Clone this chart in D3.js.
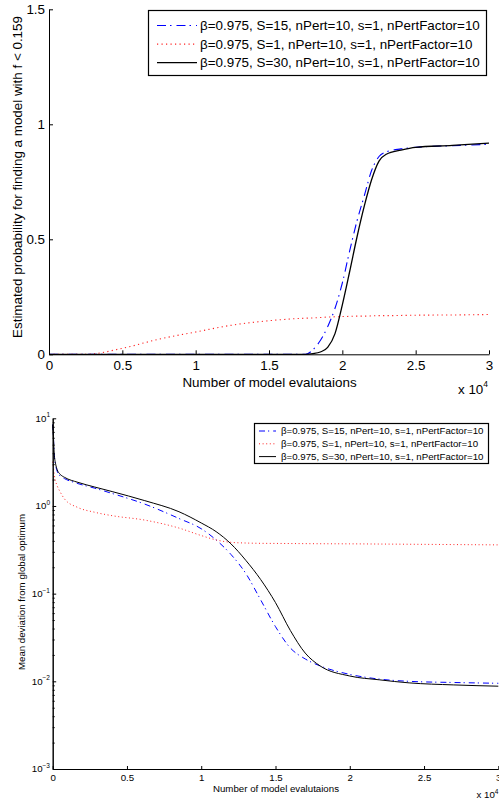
<!DOCTYPE html>
<html>
<head>
<meta charset="utf-8">
<script src="https://cdn.jsdelivr.net/npm/d3@7"></script>
<style>
  body { margin: 0; background: #fff; }
  svg { display: block; }
  text { font-family: "Liberation Sans", Arial, Helvetica, sans-serif; fill: #000; }
</style>
</head>
<body>
<svg id="fig" width="499" height="804"></svg>
<script>
// ---- Data ---------------------------------------------------------------
const seriesLabels = [
  "β=0.975, S=15, nPert=10, s=1, nPertFactor=10",
  "β=0.975, S=1, nPert=10, s=1, nPertFactor=10",
  "β=0.975, S=30, nPert=10, s=1, nPertFactor=10"
];

// Upper panel: probability of reaching f < 0.159 vs. number of evaluations
const evalsTop = [0, 2500, 5000, 7500, 10000, 12500, 15000, 17500, 18000, 18500,
  19000, 19500, 20000, 20500, 21000, 21500, 22000, 22500, 23000, 24000, 25000, 27500, 30000];
const probS15 = [0, 0, 0, 0, 0, 0, 0, 0, 0.02, 0.06,
  0.12, 0.2, 0.31, 0.45, 0.58, 0.69, 0.8, 0.86, 0.88, 0.893, 0.9, 0.907, 0.913];
const probS1 = [0, 0, 0.026, 0.066, 0.097, 0.127, 0.146, 0.157, 0.158, 0.16,
  0.162, 0.163, 0.164, 0.165, 0.166, 0.166, 0.167, 0.168, 0.168, 0.169, 0.17, 0.171, 0.173];
const probS30 = [0, 0, 0, 0, 0, 0, 0, 0, 0.003, 0.01,
  0.03, 0.09, 0.215, 0.36, 0.51, 0.645, 0.76, 0.84, 0.87, 0.888, 0.9, 0.908, 0.918];

// Lower panel: mean deviation from the global optimum (log scale)
const evalsBottom = [0, 50, 100, 200, 300, 500, 800, 1700, 2800, 4000, 6200, 8500,
  10000, 11000, 12000, 13000, 14000, 15000, 16000, 17000, 18000, 20000, 22000, 24000, 27000, 30000];
const devS15 = [8.5, 6, 4, 2.9, 2.5, 2.2, 2.05, 1.8, 1.6, 1.39, 1.05, 0.72,
  0.55, 0.41, 0.28, 0.17, 0.085, 0.042, 0.024, 0.018, 0.015, 0.012, 0.0106, 0.01, 0.0097, 0.0095];
const devS1 = [3.2, 2.7, 2.3, 1.9, 1.7, 1.45, 1.2, 0.96, 0.85, 0.775, 0.69, 0.56,
  0.46, 0.41, 0.385, 0.378, 0.375, 0.374, 0.373, 0.372, 0.371, 0.37, 0.368, 0.366, 0.363, 0.36];
const devS30 = [8.5, 6, 4, 3, 2.6, 2.3, 2.12, 1.86, 1.65, 1.46, 1.15, 0.86,
  0.64, 0.51, 0.37, 0.24, 0.145, 0.079, 0.038, 0.021, 0.015, 0.0115, 0.0104, 0.0096, 0.0091, 0.0088];

// Tick values and labels
const evalTicks = [0, 5000, 10000, 15000, 20000, 25000, 30000];
const evalTickLabels = ["0", "0.5", "1", "1.5", "2", "2.5", "3"];
const probTicks = [0, 0.5, 1, 1.5];
const probTickLabels = ["0", "0.5", "1", "1.5"];
const devTicks = [1e-3, 1e-2, 1e-1, 1, 10];
const devTickExponents = ["−3", "−2", "−1", "0", "1"];

// ---- Styles -------------------------------------------------------------
const colors = ["#0000ff", "#ff2020", "#000000"];
const dashTop = ["9,4,1.5,5", "1.2,3.3", null];
const dashBottom = ["6,3,1.2,4", "1,2.6", null];
const FS_TOP = 13.4;
const FS_BOT = 9.7;

const svg = d3.select("#fig");
const FONT = "Liberation Sans, Arial, Helvetica, sans-serif";

function styleAxis(g, size) {
  g.attr("font-family", FONT).attr("font-size", size);
  g.select(".domain").attr("stroke", "#000").attr("stroke-width", 1);
  g.selectAll(".tick line").attr("stroke", "#000").attr("stroke-width", 1);
  g.selectAll(".tick text").attr("fill", "#000");
}

const line = d3.line().curve(d3.curveMonotoneX);

// ---- Upper panel --------------------------------------------------------
const xTop = d3.scaleLinear().domain([0, 30000]).range([49, 489]);
const yTop = d3.scaleLinear().domain([0, 1.5]).range([354.3, 9.3]);

const topSeries = [probS15, probS1, probS30];
const gTop = svg.append("g");
topSeries.forEach((vals, i) => {
  gTop.append("path")
    .attr("d", line(evalsTop.map((e, k) => [xTop(e), yTop(vals[k])])))
    .attr("fill", "none")
    .attr("stroke", colors[i])
    .attr("stroke-width", i === 2 ? 1.3 : 1.1)
    .attr("stroke-dasharray", dashTop[i]);
});

const axTopX = gTop.append("g")
  .attr("transform", `translate(0,${yTop(0)})`)
  .call(d3.axisBottom(xTop).tickValues(evalTicks)
    .tickFormat((d, i) => evalTickLabels[i])
    .tickSizeInner(-4).tickSizeOuter(0).tickPadding(6));
styleAxis(axTopX, FS_TOP);

const axTopY = gTop.append("g")
  .attr("transform", `translate(${xTop(0)},0)`)
  .call(d3.axisLeft(yTop).tickValues(probTicks)
    .tickFormat((d, i) => probTickLabels[i])
    .tickSizeInner(-4).tickSizeOuter(0).tickPadding(4));
styleAxis(axTopY, FS_TOP);

gTop.append("text")
  .attr("x", 269.5).attr("y", 387)
  .attr("text-anchor", "middle").attr("font-size", FS_TOP)
  .text("Number of model evalutaions");

const expTop = gTop.append("text").attr("x", 458).attr("y", 393.5).attr("font-size", FS_TOP);
expTop.append("tspan").text("x 10");
expTop.append("tspan").attr("font-size", 8.5).attr("dy", -6.5).text("4");

gTop.append("text")
  .attr("transform", "translate(21.5,177) rotate(-90)")
  .attr("text-anchor", "middle").attr("font-size", FS_TOP)
  .text("Estimated probability for finding a model with f < 0.159");

// legend
const legTop = gTop.append("g");
legTop.append("rect").attr("x", 148.5).attr("y", 10.5).attr("width", 338).attr("height", 65)
  .attr("fill", "#fff").attr("stroke", "#000").attr("stroke-width", 1.2);
seriesLabels.forEach((lab, i) => {
  const cy = 25.5 + i * 18.6;
  legTop.append("line").attr("x1", 157).attr("x2", 197).attr("y1", cy).attr("y2", cy)
    .attr("stroke", colors[i]).attr("stroke-width", i === 2 ? 1.3 : 1.1)
    .attr("stroke-dasharray", dashTop[i]);
  legTop.append("text").attr("x", 200).attr("y", cy).attr("dy", "0.35em")
    .attr("font-size", FS_TOP).text(lab);
});

// ---- Lower panel --------------------------------------------------------
const xBot = d3.scaleLinear().domain([0, 30000]).range([52.7, 498.3]);
const yBot = d3.scaleLog().domain([1e-3, 10]).range([769, 418.3]);

const botSeries = [devS15, devS1, devS30];
const gBot = svg.append("g");
botSeries.forEach((vals, i) => {
  gBot.append("path")
    .attr("d", line(evalsBottom.map((e, k) => [xBot(e), yBot(vals[k])])))
    .attr("fill", "none")
    .attr("stroke", colors[i])
    .attr("stroke-width", 1)
    .attr("stroke-dasharray", dashBottom[i]);
});

const axBotX = gBot.append("g")
  .attr("transform", `translate(0,${yBot(1e-3)})`)
  .call(d3.axisBottom(xBot).tickValues(evalTicks)
    .tickFormat((d, i) => evalTickLabels[i])
    .tickSizeInner(-3).tickSizeOuter(0).tickPadding(5));
styleAxis(axBotX, FS_BOT);

// minor log ticks
const minorTicks = [];
for (let e = -3; e < 1; e++) for (let m = 2; m <= 9; m++) minorTicks.push(m * Math.pow(10, e));
const axBotMinor = gBot.append("g")
  .attr("transform", `translate(${xBot(0)},0)`)
  .call(d3.axisLeft(yBot).tickValues(minorTicks).tickFormat("")
    .tickSizeInner(-2).tickSizeOuter(0));
styleAxis(axBotMinor, FS_BOT);

const axBotY = gBot.append("g")
  .attr("transform", `translate(${xBot(0)},0)`)
  .call(d3.axisLeft(yBot).tickValues(devTicks).tickFormat("")
    .tickSizeInner(-3.5).tickSizeOuter(0));
styleAxis(axBotY, FS_BOT);

devTicks.forEach((v, i) => {
  const t = gBot.append("text").attr("x", 50).attr("y", yBot(v)).attr("dy", "0.35em")
    .attr("text-anchor", "end").attr("font-size", FS_BOT);
  t.append("tspan").text("10");
  t.append("tspan").attr("font-size", 6.5).attr("dy", -4.5).text(devTickExponents[i]);
});

gBot.append("text")
  .attr("x", 276).attr("y", 792)
  .attr("text-anchor", "middle").attr("font-size", FS_BOT)
  .text("Number of model evalutaions");

const expBot = gBot.append("text").attr("x", 476.5).attr("y", 798).attr("font-size", FS_BOT);
expBot.append("tspan").text("x 10");
expBot.append("tspan").attr("font-size", 6.5).attr("dy", -4.5).text("4");

gBot.append("text")
  .attr("transform", "translate(24.5,592) rotate(-90)")
  .attr("text-anchor", "middle").attr("font-size", FS_BOT)
  .text("Mean deviation from global optimum");

const legBot = gBot.append("g");
legBot.append("rect").attr("x", 254.5).attr("y", 423.5).attr("width", 234).attr("height", 40)
  .attr("fill", "#fff").attr("stroke", "#000").attr("stroke-width", 1.2);
seriesLabels.forEach((lab, i) => {
  const cy = 431 + i * 12.8;
  legBot.append("line").attr("x1", 259).attr("x2", 276).attr("y1", cy).attr("y2", cy)
    .attr("stroke", colors[i]).attr("stroke-width", 1)
    .attr("stroke-dasharray", dashBottom[i]);
  legBot.append("text").attr("x", 281).attr("y", cy).attr("dy", "0.35em")
    .attr("font-size", FS_BOT).text(lab);
});
</script>
</body>
</html>
